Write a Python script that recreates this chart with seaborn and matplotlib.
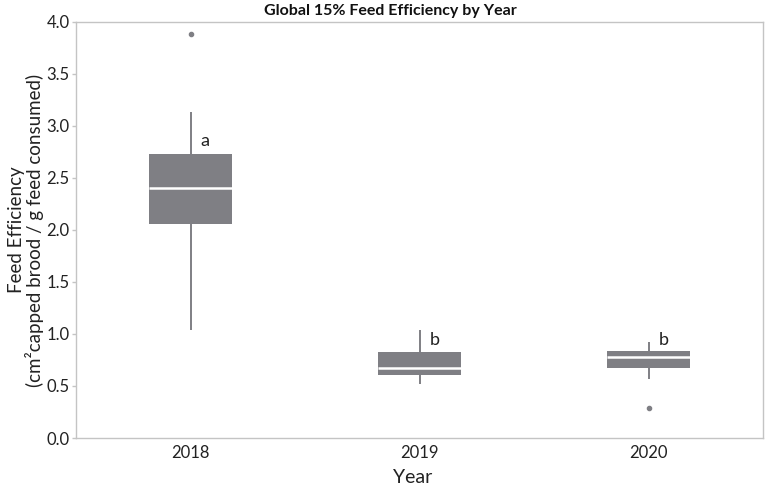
import numpy as np
import pandas as pd
import matplotlib
matplotlib.use("Agg")
import matplotlib.pyplot as plt
import seaborn as sns

# ── Data ─────────────────────────────────────────────────────────────────────
fe_2018 = [1.04, 1.80, 2.06, 2.20, 2.40, 2.60, 2.73, 3.13, 3.88]
fe_2019 = [0.52, 0.58, 0.606, 0.64, 0.673, 0.75, 0.827, 0.90, 1.04]
fe_2020 = [0.288, 0.567, 0.673, 0.72, 0.779, 0.80, 0.837, 0.88, 0.92]
years = ["2018", "2019", "2020"]
letters = ["a", "b", "b"]
letter_y = [2.86, 0.94, 0.94]

df = pd.DataFrame({
    "Year": np.repeat(years, [len(fe_2018), len(fe_2019), len(fe_2020)]),
    "FE": fe_2018 + fe_2019 + fe_2020,
})

sns.set_style("white")
plt.rcParams["font.family"] = ["Lato", "DejaVu Sans"]

fig = plt.figure(figsize=(7.68, 4.87), dpi=100)
ax = fig.add_axes([0.099, 0.1006, 0.8945, 0.8544])

grey = "#7f7f84"
sns.boxplot(
    data=df, x="Year", y="FE", order=years, ax=ax,
    width=0.365, whis=1.6, color=grey, saturation=1,
    boxprops=dict(facecolor=grey, edgecolor=grey, linewidth=0),
    medianprops=dict(color="white", linewidth=1.8),
    whiskerprops=dict(color=grey, linewidth=1.4),
    capprops=dict(linewidth=0),
    flierprops=dict(marker="o", markersize=3, markerfacecolor=grey,
                    markeredgecolor=grey),
)

for i, (lt, ly) in enumerate(zip(letters, letter_y)):
    ax.text(i + 0.045, ly, lt, fontsize=13, ha="left", va="center", color="#222222")

ax.set_xlim(-0.5, 2.5)
ax.set_ylim(0, 4.0)
ax.set_yticks(np.arange(0, 4.01, 0.5))
ax.set_yticklabels([f"{v:.1f}" for v in np.arange(0, 4.01, 0.5)])

for s in ax.spines.values():
    s.set_visible(True)
    s.set_color("#c4c4c4")
    s.set_linewidth(1.0)

ax.tick_params(axis="y", length=3, width=1, color="#c4c4c4", labelsize=12,
               labelcolor="#222222", left=True, pad=1.5)
ax.tick_params(axis="x", length=0, labelsize=12, labelcolor="#222222", pad=5)

ax.set_xlabel("Year", fontsize=14, color="#222222", labelpad=3)
ax.xaxis.set_label_coords(0.49, -0.075)
ax.set_ylabel("Feed Efficiency\n(cm²capped brood / g feed consumed)",
              fontsize=13.5, color="#222222", labelpad=6, linespacing=1.0)
ax.yaxis.set_label_coords(-0.046, 0.50)
ax.set_title("Global 15% Feed Efficiency by Year", fontsize=11.5,
             fontweight="bold", color="#111111", pad=5, x=0.457)

plt.savefig("out.png", dpi=100)
plt.close()
